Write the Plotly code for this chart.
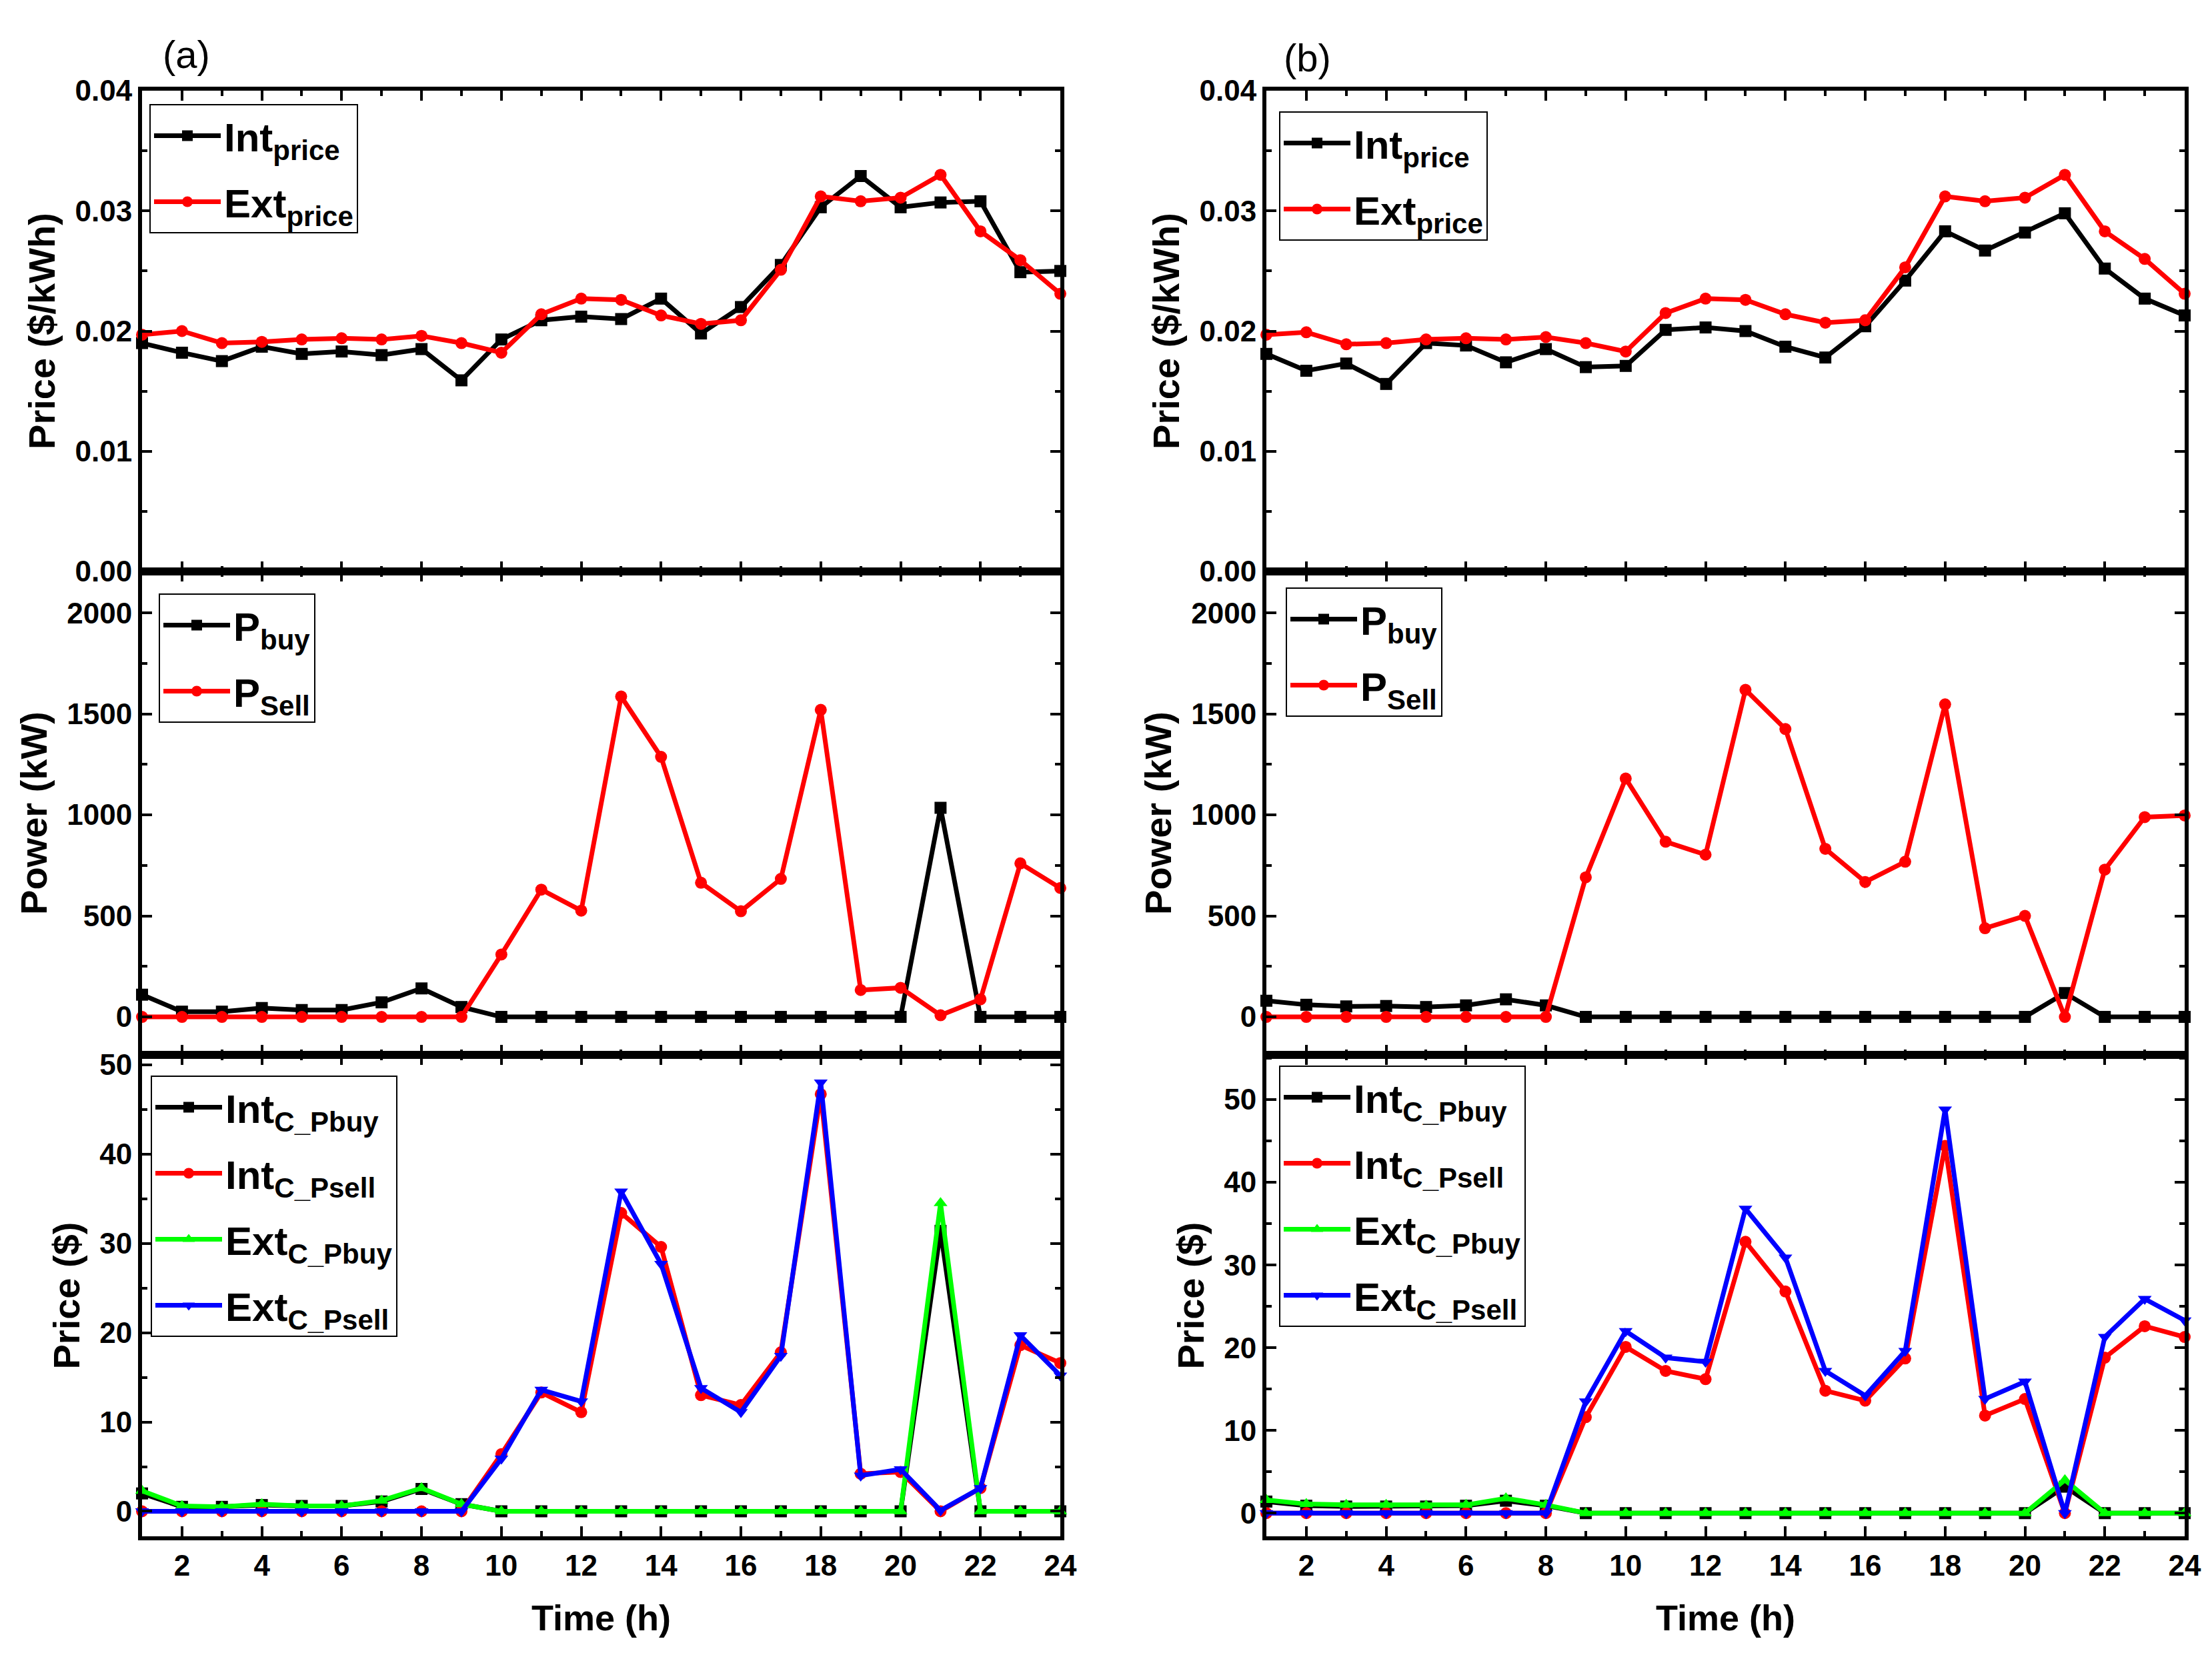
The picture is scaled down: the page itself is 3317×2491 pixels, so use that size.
import plotly.graph_objects as go

# ---- data ----
hours = [1, 2, 3, 4, 5, 6, 7, 8, 9, 10, 11, 12, 13, 14, 15, 16, 17, 18, 19, 20, 21, 22, 23, 24]

# (a) prices ($/kWh)
a_int_price = [0.0190, 0.0182, 0.0175, 0.0187, 0.0181, 0.0183, 0.0180, 0.0185, 0.0159, 0.0193, 0.0209, 0.0212,
               0.0210, 0.0227, 0.0198, 0.0220, 0.0255, 0.0303, 0.0329, 0.0303, 0.0307, 0.0308, 0.0249, 0.0250]
a_ext_price = [0.0197, 0.0200, 0.0190, 0.0191, 0.0193, 0.0194, 0.0193, 0.0196, 0.0190, 0.0182, 0.0214, 0.0227,
               0.0226, 0.0213, 0.0206, 0.0209, 0.0251, 0.0312, 0.0308, 0.0311, 0.0330, 0.0283, 0.0259, 0.0231]
# (b) prices ($/kWh)
b_int_price = [0.0181, 0.0167, 0.0173, 0.0156, 0.0190, 0.0188, 0.0174, 0.0185, 0.0170, 0.0171, 0.0201, 0.0203,
               0.0200, 0.0187, 0.0178, 0.0204, 0.0242, 0.0283, 0.0267, 0.0282, 0.0298, 0.0252, 0.0227, 0.0213]
b_ext_price = [0.0197, 0.0199, 0.0189, 0.0190, 0.0193, 0.0194, 0.0193, 0.0195, 0.0190, 0.0183, 0.0215, 0.0227,
               0.0226, 0.0214, 0.0207, 0.0209, 0.0253, 0.0312, 0.0308, 0.0311, 0.0330, 0.0283, 0.0260, 0.0231]

# (a) power (kW)
a_pbuy = [110, 26, 26, 44, 34, 34, 72, 141, 49, 0, 0, 0, 0, 0, 0, 0, 0, 0, 0, 0, 1035, 0, 0, 0]
a_psell = [0, 0, 0, 0, 0, 0, 0, 0, 0, 309, 630, 526, 1586, 1287, 664, 523, 683, 1520, 133, 144, 8, 87, 760, 638]
# (b) power (kW)
b_pbuy = [80, 60, 52, 54, 49, 57, 87, 57, 0, 0, 0, 0, 0, 0, 0, 0, 0, 0, 0, 0, 118, 0, 0, 0]
b_psell = [0, 0, 0, 0, 0, 0, 0, 0, 691, 1180, 867, 803, 1619, 1425, 832, 668, 768, 1547, 439, 500, 0, 729, 989, 997]

# (a) costs ($)
a_int_c_pbuy = [2.0, 0.5, 0.5, 0.7, 0.6, 0.6, 1.1, 2.5, 0.8, 0, 0, 0, 0, 0, 0, 0, 0, 0, 0, 0, 31.4, 0, 0, 0]
a_int_c_psell = [0, 0, 0, 0, 0, 0, 0, 0, 0, 6.4, 13.3, 11.1, 33.4, 29.6, 13.0, 11.9, 17.8, 46.7, 4.2, 4.4, 0.0, 2.6,
                 18.6, 16.6]
a_ext_c_pbuy = [2.3, 0.6, 0.5, 0.8, 0.6, 0.6, 1.2, 2.6, 0.8, 0, 0, 0, 0, 0, 0, 0, 0, 0, 0, 0, 34.5, 0, 0, 0]
a_ext_c_psell = [0, 0, 0, 0, 0, 0, 0, 0, 0, 5.9, 13.6, 12.3, 35.8, 27.7, 13.8, 11.1, 17.4, 48.0, 4.0, 4.7, 0.1, 2.6,
                 19.7, 15.2]
# (b) costs ($)
b_int_c_pbuy = [1.4, 0.9, 0.8, 0.8, 0.8, 0.9, 1.5, 0.9, 0, 0, 0, 0, 0, 0, 0, 0, 0, 0, 0, 0, 3.2, 0, 0, 0]
b_int_c_psell = [0, 0, 0, 0, 0, 0, 0, 0, 11.6, 20.1, 17.2, 16.2, 32.8, 26.8, 14.8, 13.6, 18.7, 44.4, 11.8, 13.8, 0.0,
                 18.8, 22.6, 21.3]
b_ext_c_pbuy = [1.6, 1.1, 1.0, 1.0, 0.9, 1.0, 1.8, 1.0, 0, 0, 0, 0, 0, 0, 0, 0, 0, 0, 0, 0, 4.0, 0, 0, 0]
b_ext_c_psell = [0, 0, 0, 0, 0, 0, 0, 0, 13.5, 22.0, 18.8, 18.3, 36.8, 30.9, 17.2, 14.2, 19.6, 48.8, 13.8, 15.9, 0.0,
                 21.3, 25.9, 23.3]

W, H = 3317, 2491
FONT = "Liberation Sans, Arial, sans-serif"

# panel placement (pixels -> paper)
col_x = [(205, 1582), (1891, 3268)]
row_y = [(128, 849), (849, 1574), (1574, 2296)]
y_ranges = {
    (0, 0): [0, 0.04], (0, 1): [0, 0.04],
    (1, 0): [-188, 2205], (1, 1): [-188, 2205],
    (2, 0): [-2.8, 51.1], (2, 1): [-2.8, 55.4],
}
y_titles = ["Price ($/kWh)", "Power (kW)", "Price ($)"]
y_dticks = [0.01, 500, 10]
legend_px = {
    (0, 0): (216, 148), (0, 1): (1910, 159),
    (1, 0): (230, 882), (1, 1): (1920, 873),
    (2, 0): (218, 1605), (2, 1): (1910, 1590),
}

GREEN = "#00ff00"
panels = {
    (0, 0): [("Int<sub>price</sub>", a_int_price, "black", "square"),
             ("Ext<sub>price</sub>", a_ext_price, "red", "circle")],
    (0, 1): [("Int<sub>price</sub>", b_int_price, "black", "square"),
             ("Ext<sub>price</sub>", b_ext_price, "red", "circle")],
    (1, 0): [("P<sub>buy</sub>", a_pbuy, "black", "square"),
             ("P<sub>Sell</sub>", a_psell, "red", "circle")],
    (1, 1): [("P<sub>buy</sub>", b_pbuy, "black", "square"),
             ("P<sub>Sell</sub>", b_psell, "red", "circle")],
    (2, 0): [("Int<sub>C_Pbuy</sub>", a_int_c_pbuy, "black", "square"),
             ("Int<sub>C_Psell</sub>", a_int_c_psell, "red", "circle"),
             ("Ext<sub>C_Pbuy</sub>", a_ext_c_pbuy, GREEN, "triangle-up"),
             ("Ext<sub>C_Psell</sub>", a_ext_c_psell, "blue", "triangle-down")],
    (2, 1): [("Int<sub>C_Pbuy</sub>", b_int_c_pbuy, "black", "square"),
             ("Int<sub>C_Psell</sub>", b_int_c_psell, "red", "circle"),
             ("Ext<sub>C_Pbuy</sub>", b_ext_c_pbuy, GREEN, "triangle-up"),
             ("Ext<sub>C_Psell</sub>", b_ext_c_psell, "blue", "triangle-down")],
}

fig = go.Figure()
layout = {}

for (r, c), series in panels.items():
    i = r * 2 + c + 1
    sfx = "" if i == 1 else str(i)
    leg = "legend" if i == 1 else f"legend{i}"

    for k, (name, vals, color, symbol) in enumerate(series):
        fig.add_trace(go.Scatter(
            x=hours, y=vals, name=name, mode="lines+markers",
            xaxis=f"x{sfx}", yaxis=f"y{sfx}", legend=leg,
            legendgroup=f"g{i}_{k}",
            line=dict(color=color, width=7),
            marker=dict(color=color, symbol=symbol, size=18),
            cliponaxis=False,
        ))

    common = dict(
        showline=True, linewidth=6, linecolor="black", mirror="ticks",
        ticks="inside", ticklen=15, tickwidth=4, tickcolor="black",
        showgrid=False, zeroline=False, automargin=False,
        tickfont=dict(family=FONT, size=44, color="black", weight="bold"),
    )
    x0, x1 = col_x[c]
    ytop, ybot = row_y[r]
    xaxis = dict(
        common, domain=[x0 / W, x1 / W], anchor=f"y{sfx}",
        range=[1, 24], tick0=0, dtick=2,
        minor=dict(ticks="inside", ticklen=8, tickwidth=4, tickcolor="black", dtick=1),
        showticklabels=(r == 2),
    )
    if r == 2:
        xaxis["title"] = dict(text="Time (h)", standoff=38,
                              font=dict(family=FONT, size=54, color="black", weight="bold"))
    layout[f"xaxis{sfx}"] = xaxis
    layout[f"yaxis{sfx}"] = dict(
        common, domain=[1 - ybot / H, 1 - ytop / H], anchor=f"x{sfx}",
        range=y_ranges[(r, c)], tick0=0, dtick=y_dticks[r],
        tickformat=".2f" if r == 0 else "d",
        minor=dict(ticks="inside", ticklen=8, tickwidth=4, tickcolor="black", dtick=y_dticks[r] / 2),
        title=dict(text=y_titles[r], standoff=14,
                   font=dict(family=FONT, size=56, color="black", weight="bold")),
    )
    lx, ly = legend_px[(r, c)]
    layout[leg] = dict(
        x=lx / W, y=1 - ly / H, xanchor="left", yanchor="top",
        bgcolor="white", bordercolor="black", borderwidth=2,
        font=dict(family=FONT, size=60, color="black", weight="bold"),
        itemwidth=100, tracegroupgap=18,
    )

fig.update_layout(
    **layout,
    template="none",
    width=W, height=H,
    margin=dict(l=0, r=0, t=0, b=0, pad=0),
    paper_bgcolor="white", plot_bgcolor="white",
    annotations=[
        dict(text="(a)", x=271 / W, y=1 - 74 / H, xref="paper", yref="paper", showarrow=False,
             xanchor="center", yanchor="middle",
             font=dict(family=FONT, size=58, color="black")),
        dict(text="(b)", x=1953 / W, y=1 - 78 / H, xref="paper", yref="paper", showarrow=False,
             xanchor="center", yanchor="middle",
             font=dict(family=FONT, size=58, color="black")),
    ],
)

fig.write_html("out.html")
